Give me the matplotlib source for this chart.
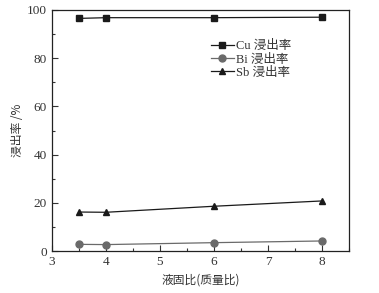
import numpy as np
from matplotlib import pyplot as plt
from matplotlib.ticker import MultipleLocator

plt.rcParams['font.family'] = ['Liberation Serif', 'Noto Sans CJK SC']

ratio = [3.5, 4, 6, 8]
cu = [96.5, 96.8, 96.8, 97.0]
bi = [2.8, 2.7, 3.5, 4.2]
sb = [16.2, 16.1, 18.6, 20.8]
labels = ['Cu 浸出率', 'Bi 浸出率', 'Sb 浸出率']


def main():
    fig = plt.figure(figsize=(3.79, 2.93), dpi=100)
    ax = fig.add_axes([0.137, 0.143, 0.784, 0.823])

    ax.plot(ratio, cu, c='#1a1a1a', marker='s', ms=5, lw=0.9, label=labels[0])
    ax.plot(ratio, bi, c='#6a6a6a', marker='o', ms=5, lw=0.9, label=labels[1])
    ax.plot(ratio, sb, c='#1a1a1a', marker='^', ms=5, lw=0.9, label=labels[2])

    ax.set_xlim(3, 8.5)
    ax.set_ylim(0, 100)
    ax.xaxis.set_major_locator(MultipleLocator(1))
    ax.xaxis.set_minor_locator(MultipleLocator(0.5))
    ax.yaxis.set_major_locator(MultipleLocator(20))
    ax.yaxis.set_minor_locator(MultipleLocator(10))
    ax.tick_params(which='both', direction='in', top=False, right=False,
                   labelsize=9.5, colors='#333333', width=0.8)
    ax.tick_params(which='major', length=4)
    ax.tick_params(which='minor', length=2)
    for s in ax.spines.values():
        s.set_linewidth(0.9)
        s.set_color('#222222')

    ax.set_xlabel('液固比(质量比)', fontsize=8.5, family='Noto Sans CJK SC',
                  color='#333333', labelpad=4)
    ax.set_ylabel('浸出率 /%', fontsize=8.5, family=['Noto Sans CJK SC', 'DejaVu Sans'],
                  color='#333333', labelpad=2)

    leg = ax.legend(loc='upper left', bbox_to_anchor=(0.515, 0.9), frameon=False,
                    fontsize=9, handlelength=1.8, handletextpad=0.2,
                    labelspacing=0.1, borderpad=0)
    for t in leg.get_texts():
        t.set_color('#333333')

    fig.savefig('out.png', dpi=100)


if __name__ == '__main__':
    main()
